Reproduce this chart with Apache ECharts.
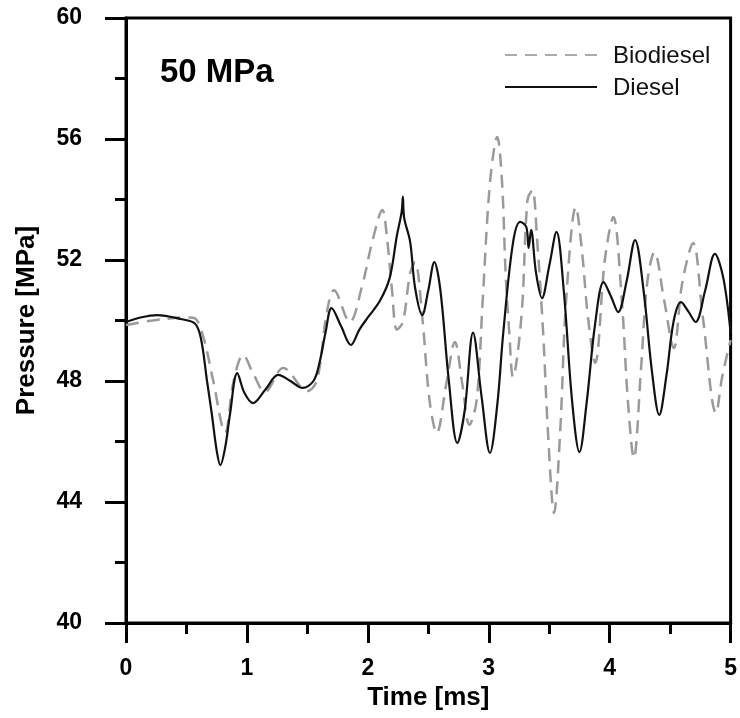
<!DOCTYPE html>
<html>
<head>
<meta charset="utf-8">
<script src="https://cdn.jsdelivr.net/npm/echarts@6/dist/echarts.min.js"></script>
<style>
  html, body { margin: 0; padding: 0; background: #fff; }
  #chart { width: 740px; height: 718px; }
</style>
</head>
<body>
<div id="chart"></div>
<script>
// Biodiesel (dashed grey) - time [ms] / pressure [MPa]
const bioTime = [0, 0.22, 0.5, 0.57, 0.64, 0.72, 0.82, 0.89, 0.97, 1.05, 1.15, 1.30, 1.5, 1.58, 1.66, 1.72, 1.85, 1.95, 2.04, 2.12,
  2.16, 2.20, 2.24, 2.29, 2.35, 2.39, 2.45, 2.51, 2.57, 2.65, 2.72, 2.78, 2.84, 2.90, 2.95, 3.01, 3.07, 3.11, 3.14, 3.17,
  3.2, 3.27, 3.32, 3.36, 3.40, 3.45, 3.49, 3.54, 3.59, 3.64, 3.72, 3.77, 3.82, 3.88, 3.96, 4.03, 4.10, 4.15, 4.20, 4.26,
  4.31, 4.37, 4.45, 4.53, 4.6, 4.69, 4.77, 4.88, 4.93, 5.0];
const bioPressure = [49.85, 50.0, 50.1, 50.07, 49.45, 48.03, 46.3, 48.0, 48.86, 48.26, 47.64, 48.43, 47.67, 48.03, 50.25, 51.0, 49.95, 51.1, 52.66, 53.65,
  52.66, 51.0, 49.7, 49.95, 51.57, 51.93, 50.12, 47.37, 46.28, 47.93, 49.29, 47.93, 46.55, 47.37, 50.68, 54.55, 56.07, 54.55, 51.5, 49.58,
  48.13, 50.12, 53.98, 54.31, 52.66, 49.58, 46.28, 43.64, 46.28, 50.68, 53.75, 52.33, 50.12, 48.6, 52.0, 53.42, 50.68, 47.37, 45.45, 48.46,
  51.24, 52.26, 50.68, 49.09, 51.24, 52.56, 50.12, 46.94, 48.13, 49.35];

// Diesel (solid black)
const dieselTime = [0, 0.12, 0.26, 0.45, 0.57, 0.62, 0.67, 0.71, 0.75, 0.78, 0.82, 0.86, 0.92, 0.98, 1.05, 1.15, 1.26, 1.36, 1.46, 1.55,
  1.6, 1.65, 1.70, 1.78, 1.86, 1.93, 2.0, 2.1, 2.18, 2.24, 2.28, 2.29, 2.30, 2.35, 2.39, 2.45, 2.5, 2.55, 2.6, 2.67,
  2.74, 2.8, 2.87, 2.94, 3.01, 3.07, 3.12, 3.2, 3.26, 3.31, 3.33, 3.35, 3.39, 3.44, 3.5, 3.56, 3.62, 3.69, 3.75, 3.81,
  3.88, 3.95, 4.01, 4.07, 4.14, 4.21, 4.28, 4.35, 4.41, 4.47, 4.53, 4.59, 4.65, 4.71, 4.79, 4.87, 4.94, 5.0];
const dieselPressure = [49.95, 50.1, 50.18, 50.05, 49.9, 49.4, 48.0, 46.9, 45.7, 45.22, 45.8, 46.9, 48.26, 47.6, 47.27, 47.7, 48.2, 48.0, 47.77, 48.0,
  48.6, 49.6, 50.41, 49.8, 49.19, 49.7, 50.1, 50.65, 51.4, 52.8, 53.6, 54.1, 53.4, 52.6, 51.1, 50.18, 51.0, 51.93, 51.0, 48.0,
  45.95, 47.0, 49.6, 47.5, 45.62, 47.2, 49.6, 52.56, 53.26, 53.1, 52.4, 53.0, 51.6, 50.74, 51.8, 52.93, 51.0, 47.3, 45.65, 47.3,
  49.9, 51.27, 50.8, 50.28, 51.3, 52.66, 51.0, 48.3, 46.88, 48.2, 50.0, 50.61, 50.3, 49.95, 51.0, 52.2, 51.4, 49.58];

const seriesNames = ['Biodiesel', 'Diesel'];
const panelLabel = '50 MPa';

const zip = (xs, ys) => xs.map((x, i) => [x, ys[i]]);
const fontFamily = '"Liberation Sans", Arial, sans-serif';
const axisColor = '#000';
const bioColor = '#9a9a9a';
const bioDash = [12, 8];
const dieselColor = '#111';

const chart = echarts.init(document.getElementById('chart'));

// legend drawn by hand: long line samples like the original figure
const legendItem = (y, name, lineStyle) => [
  {
    type: 'line',
    shape: { x1: 505, y1: y, x2: 597, y2: y },
    style: lineStyle
  },
  {
    type: 'text',
    left: 613,
    top: y - 11,
    style: { text: name, font: '24px ' + fontFamily, fill: '#111' }
  }
];

const option = {
  animation: false,
  backgroundColor: '#fff',
  textStyle: { fontFamily },
  grid: {
    left: 126,
    right: 9,
    top: 18,
    bottom: 95,
    show: true,
    borderColor: axisColor,
    borderWidth: 3,
    backgroundColor: 'transparent'
  },
  graphic: [
    {
      type: 'text',
      left: 160,
      top: 56,
      style: {
        text: panelLabel,
        font: 'bold 33px ' + fontFamily,
        fill: '#000'
      }
    },
    ...legendItem(55, seriesNames[0], { stroke: '#aaa', lineWidth: 2, lineDash: bioDash }),
    ...legendItem(87, seriesNames[1], { stroke: dieselColor, lineWidth: 2 })
  ],
  xAxis: {
    type: 'value',
    min: 0,
    max: 5,
    interval: 1,
    name: 'Time [ms]',
    nameLocation: 'middle',
    nameGap: 50,
    nameTextStyle: { fontSize: 26, fontWeight: 'bold', color: '#000', fontFamily },
    axisLine: { lineStyle: { color: axisColor, width: 3 } },
    axisTick: { length: 20, lineStyle: { color: axisColor, width: 3 } },
    minorTick: { show: true, splitNumber: 2, length: 11, lineStyle: { color: axisColor, width: 3 } },
    axisLabel: { margin: 34, fontSize: 23, fontWeight: 'bold', color: '#000', fontFamily },
    splitLine: { show: false }
  },
  yAxis: {
    type: 'value',
    min: 40,
    max: 60,
    interval: 4,
    name: 'Pressure [MPa]',
    nameLocation: 'middle',
    nameGap: 86,
    nameTextStyle: { fontSize: 26, fontWeight: 'bold', color: '#000', fontFamily },
    axisLine: { lineStyle: { color: axisColor, width: 3 } },
    axisTick: { length: 21, lineStyle: { color: axisColor, width: 3 } },
    minorTick: { show: true, splitNumber: 2, length: 11, lineStyle: { color: axisColor, width: 3 } },
    axisLabel: { margin: 44, fontSize: 23, fontWeight: 'bold', color: '#000', fontFamily },
    splitLine: { show: false }
  },
  series: [
    {
      name: seriesNames[0],
      type: 'line',
      data: zip(bioTime, bioPressure),
      smooth: 0.35,
      showSymbol: false,
      symbol: 'none',
      lineStyle: { color: bioColor, width: 2.5, type: [13, 8] }
    },
    {
      name: seriesNames[1],
      type: 'line',
      data: zip(dieselTime, dieselPressure),
      smooth: 0.35,
      showSymbol: false,
      symbol: 'none',
      lineStyle: { color: dieselColor, width: 2.2 }
    }
  ]
};

chart.setOption(option);
</script>
</body>
</html>
